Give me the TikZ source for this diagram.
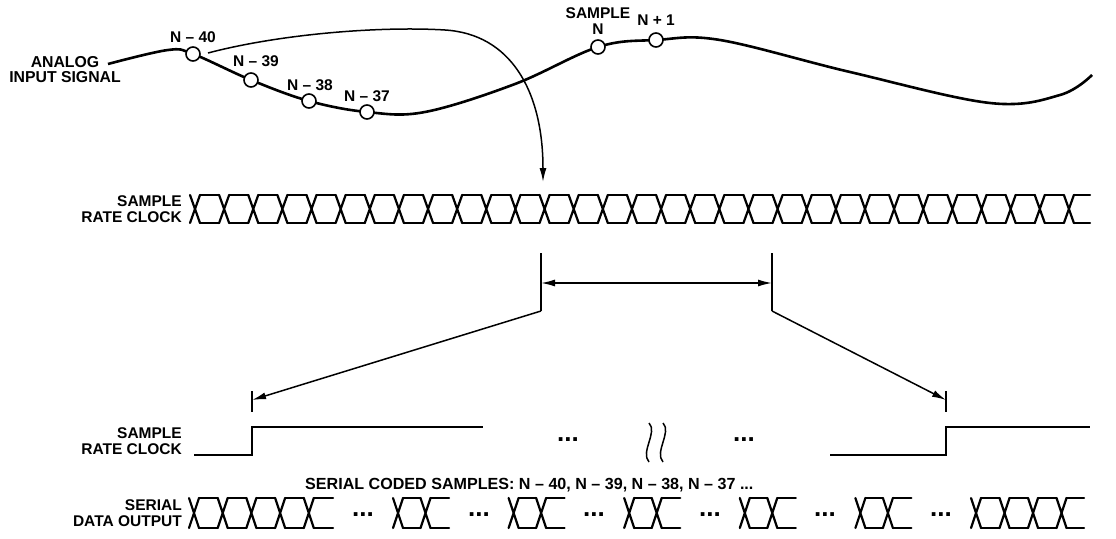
\documentclass[tikz,border=0pt]{standalone}
\usepackage{fontspec}
\setmainfont{Liberation Sans}
\usetikzlibrary{arrows.meta}
\tikzset{
 lbl/.style={font=\fontsize{15.5}{15.5}\selectfont\bfseries, inner sep=0pt, align=center},
 rlbl/.style={lbl, align=right, anchor=east},
 dotsl/.style={font=\fontsize{26}{26}\selectfont\bfseries, inner sep=0pt, anchor=base},
 smp/.style={circle, draw, line width=1.6pt, fill=white, minimum size=14pt, inner sep=0pt},
 signal/.style={line width=2.6pt},
 wave/.style={line width=2.2pt, line cap=round},
 thinl/.style={line width=1.5pt},
 tip/.style={-{Latex[length=14pt,width=7pt]}},
 tips/.style={{Latex[length=14pt,width=7pt]}-{Latex[length=14pt,width=7pt]}},
}
\newcommand\busgroup[6]{%
  \foreach \k in {1,...,#3}{%
    \pgfmathsetmacro\cc{#1+(\k-1)*#2}%
    \draw[wave] (\cc-5,#5) -- (\cc+5,#6) (\cc-5,#6) -- (\cc+5,#5);
    \pgfmathsetmacro\nn{ifthenelse(\k==#3,#4,\cc+#2-5)}%
    \draw[wave] (\cc+5,#5) -- (\nn,#5) (\cc+5,#6) -- (\nn,#6);
  }}
\begin{document}
\begin{tikzpicture}[x=1pt,y=-1pt]
\useasboundingbox (0,0) rectangle (1116,538);

% analog signal
\draw[signal] plot[smooth, tension=0.6] coordinates {(108,64) (168,50) (193,54) (251,80) (309,101) (367,112) (425,112) (515,84) (598,47) (656,40) (720,40) (850,72) (990,103) (1060,95) (1092,75)};
\node[lbl, font=\fontsize{15.8}{15}\selectfont\bfseries] (analog) at (65,70) {ANALOG\\INPUT SIGNAL};
\node[smp] (s40) at (193,54) {};
\node[smp] (s39) at (251,80) {};
\node[smp] (s38) at (309,101) {};
\node[smp] (s37) at (367,112) {};
\node[smp] (sN) at (598,47) {};
\node[smp] (sN1) at (656,40) {};
\node[lbl] (l40) at (193,37.5) {N – 40};
\node[lbl] (l39) at (256,61.5) {N – 39};
\node[lbl] (l38) at (310,85.5) {N – 38};
\node[lbl] (l37) at (367,96.5) {N – 37};
\node[lbl] (lN) at (598,21) {SAMPLE\\N};
\node[lbl] (lN1) at (656,20) {N + 1};

% arrow to clock
\coordinate (astart) at (208,53);
\coordinate (clk12) at (543,182);
\draw[thinl, tip] (astart) .. controls (280,34) and (380,26) .. (445,30) .. controls (510,34) and (543,90) .. (clk12);

% top clock
\node[rlbl] (clk1) at (182,209) {SAMPLE\\RATE CLOCK};
\busgroup{195}{29.13}{31}{1090}{195}{223}

% markers
\coordinate (m1t) at (541,253); \coordinate (m1b) at (541,311); \coordinate (m1a) at (541,283);
\coordinate (m2t) at (772,253); \coordinate (m2b) at (772,311); \coordinate (m2a) at (772,283);
\draw[thinl] (m1t) -- (m1b);
\draw[thinl] (m2t) -- (m2b);
\draw[thinl, tips] (m1a) -- (m2a);
\coordinate (b1t) at (252,391); \coordinate (b1b) at (252,412); \coordinate (b1a) at (252,400);
\coordinate (b2t) at (946,391); \coordinate (b2b) at (946,412); \coordinate (b2a) at (946,400);
\draw[thinl] (b1t) -- (b1b);
\draw[thinl] (b2t) -- (b2b);
\draw[thinl, tip] (m1b) -- (b1a);
\draw[thinl, tip] (m2b) -- (b2a);

% bottom clock
\node[rlbl] (clk2) at (182,441) {SAMPLE\\RATE CLOCK};
\draw[wave, line cap=butt, line join=miter] (194,455) -- (252,455) -- (252,427) -- (483,427);
\draw[wave, line cap=butt, line join=miter] (830,455) -- (946,455) -- (946,427) -- (1090,427);
\node[dotsl] (d1) at (568,441) {...};
\node[dotsl] (d2) at (744,441) {...};
\draw[line width=1.5pt] (649,423) .. controls (658,432) and (640,452) .. (649,462);
\draw[line width=1.5pt] (663,423) .. controls (672,432) and (654,452) .. (663,462);

% serial data
\node[lbl, anchor=west, font=\fontsize{16.1}{16}\selectfont\bfseries] (codes) at (305,485) {SERIAL CODED SAMPLES: N – 40, N – 39, N – 38, N – 37 ...};
\node[rlbl] (sdo) at (182,513) {SERIAL\\DATA OUTPUT};
\busgroup{194}{28.7}{5}{333}{498}{528}
\busgroup{398}{27.5}{2}{449}{498}{528}
\busgroup{513.6}{27.5}{2}{564.6}{498}{528}
\busgroup{629.2}{27.5}{2}{680.2}{498}{528}
\busgroup{744.8}{27.5}{2}{795.8}{498}{528}
\busgroup{860.4}{27.5}{2}{911.4}{498}{528}
\busgroup{976}{28.5}{4}{1084}{498}{528}
\foreach \x/\n in {363/e1,479/e2,594/e3,710/e4,825/e5,941/e6}{
  \node[dotsl] (\n) at (\x,516) {...};
}
\end{tikzpicture}
\end{document}
